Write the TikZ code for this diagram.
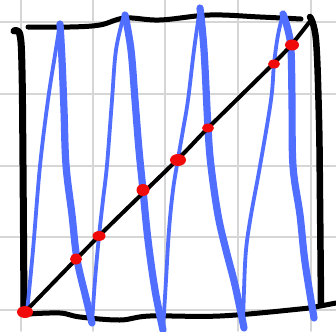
\documentclass[tikz,border=0pt]{standalone}
\usepackage{tikz}
\definecolor{penB}{RGB}{80,110,255}
\definecolor{penR}{RGB}{240,10,10}
\definecolor{gridG}{RGB}{214,214,214}

\begin{document}
\begin{tikzpicture}[x=1pt,y=-1pt,line cap=round,line join=round,
  thinpen/.style={penB,line width=3.8pt},
  thickpen/.style={penB,line width=7.2pt},
  frame/.style={black,line width=5pt}]
\useasboundingbox (0,0) rectangle (336,331);
\fill[white] (0,0) rectangle (336,331);
% grid
\foreach \g in {21,93,165,238,311} \draw[gridG,line width=1.6pt] (\g,0)--(\g,331);
\foreach \g in {22,94,166,237,310} \draw[gridG,line width=1.6pt] (0,\g)--(336,\g);
% square
\draw[frame,line width=7pt] plot[smooth,tension=0.6] coordinates {(14,31) (20,35) (22,70) (23,165) (24,309)};
\draw[frame] plot[smooth,tension=0.6] coordinates {(28,27) (70,27) (100,25) (125,18) (160,20) (210,15) (260,17) (301,19)};
\draw[frame,line width=6.5pt] plot[smooth,tension=0.6] coordinates {(310,17) (316,40) (319,120) (320,200) (321,305)};
\draw[frame] plot[smooth,tension=0.6] coordinates {(28,314) (60,313) (80,317) (120,320) (150,316) (220,316) (300,309) (320,306) (336,303)};
% blue zigzag
\draw[thinpen] plot[smooth,tension=0.6] coordinates {(27,312) (33,250) (40,166) (48,100) (55,55) (60,24)};
\draw[thickpen] plot[smooth,tension=0.6] coordinates {(60,24) (62,60) (64,110) (66,165) (72,215) (77,259) (86,298) (92,323)};
\draw[thinpen] plot[smooth,tension=0.6] coordinates {(92,323) (95,280) (99,236) (103,200) (107,165) (112,100) (116,50) (124,15)};
\draw[thickpen] plot[smooth,tension=0.6] coordinates {(125,15) (131,50) (135,100) (139,150) (143,190) (148,240) (155,290) (163,330)};
\draw[thinpen] plot[smooth,tension=0.6] coordinates {(163,330) (166,280) (169,230) (173,190) (178,159) (183,130) (188,100) (194,50) (200,8)};
\draw[thickpen] plot[smooth,tension=0.6] coordinates {(200,8) (204,50) (208,128) (211,166) (218,215) (226,250) (235,285) (244,328)};
\draw[thinpen] plot[smooth,tension=0.6] coordinates {(243,328) (244,290) (246,250) (251,215) (260,166) (271,100) (274,64) (278,35) (283,14)};
\draw[thickpen] plot[smooth,tension=0.6] coordinates {(283,14) (288,30) (291,50) (292,100) (293,166) (300,215) (305,262) (314,318)};
% diagonal
\draw[black,line width=4pt] plot[smooth,tension=0.5] coordinates {(25,312) (99,236) (178,159) (208,128) (274,63) (292,44) (311,20)};
% crossings
\foreach \px/\py/\rx/\ry in {25/312/8/6,76/259/6/5.5,99/236/6.5/5,143/190/6.5/6,178/160/8/6,208/128/6/4.5,274/64/6/4.5,292/45/7/5.5}
  \fill[penR] (\px,\py) ellipse [x radius=\rx pt,y radius=\ry pt];
\end{tikzpicture}
\end{document}
